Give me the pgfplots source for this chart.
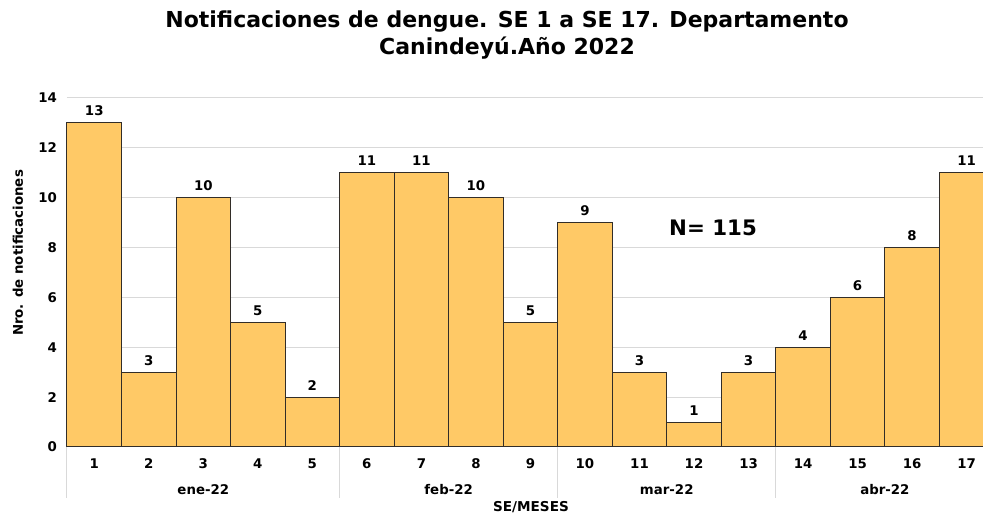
\documentclass[border=0pt]{standalone}
\usepackage{fontspec}
\setmainfont{DejaVu Sans}
\usepackage{pgfplots}
\pgfplotsset{compat=1.18}
\definecolor{barc}{RGB}{255,201,102}
\definecolor{gridc}{RGB}{217,217,217}
\definecolor{edgec}{RGB}{50,45,40}
\begin{document}
\begin{tikzpicture}[x=0.75pt,y=0.75pt]
\path[use as bounding box] (0,0) rectangle (983,513);
\node[font=\bfseries\fontsize{16.5}{19}\selectfont] at (507,491) {Notificaciones de dengue. SE 1 a SE 17. Departamento};
\node[font=\bfseries\fontsize{16.5}{19}\selectfont] at (507,465) {Canindeyú.Año 2022};
\begin{axis}[
  at={(50.25pt,49.5pt)}, anchor=south west,
  scale only axis, width=687pt, height=261.75pt,
  ybar, bar width=1,
  xmin=0.5, xmax=17.3, ymin=0, ymax=14,
  ytick={0,2,...,14}, xtick={1,...,17},
  ymajorgrids, grid style={gridc, line width=0.75pt},
  axis line style={draw=none}, major tick length=0pt,
  tick label style={font=\bfseries\fontsize{10}{12}\selectfont},
  /pgf/number format/assume math mode=true,
  xticklabel style={yshift=-5pt},
  yticklabel style={xshift=-4pt},
  nodes near coords,
  every node near coord/.append style={font=\bfseries\fontsize{10}{12}\selectfont, yshift=1.5pt},
  clip=false,
]
\addplot[fill=barc, draw=edgec, line width=0.75pt] coordinates {
(1,13) (2,3) (3,10) (4,5) (5,2) (6,11) (7,11) (8,10) (9,5)
(10,9) (11,3) (12,1) (13,3) (14,4) (15,6) (16,8) (17,11)};
\foreach \s in {0.5,5.5,9.5,13.5}{
  \edef\tmp{\noexpand\draw[gridc, line width=0.75pt] (axis cs:\s,0) -- ([yshift=-38pt]axis cs:\s,0);}
  \tmp
}
\node[font=\bfseries\fontsize{10}{12}\selectfont] at ([yshift=-32pt]axis cs:3,0) {ene-22};
\node[font=\bfseries\fontsize{10}{12}\selectfont] at ([yshift=-32pt]axis cs:7.5,0) {feb-22};
\node[font=\bfseries\fontsize{10}{12}\selectfont] at ([yshift=-32pt]axis cs:11.5,0) {mar-22};
\node[font=\bfseries\fontsize{10}{12}\selectfont] at ([yshift=-32pt]axis cs:15.5,0) {abr-22};
\end{axis}
\node[font=\bfseries\fontsize{10}{12}\selectfont, rotate=90] at (18,260) {Nro. de notificaciones};
\node[font=\bfseries\fontsize{10.2}{12}\selectfont] at (531,6) {SE/MESES};
\node[font=\bfseries\fontsize{16}{19}\selectfont] at (713,285) {N= 115};
\end{tikzpicture}
\end{document}
